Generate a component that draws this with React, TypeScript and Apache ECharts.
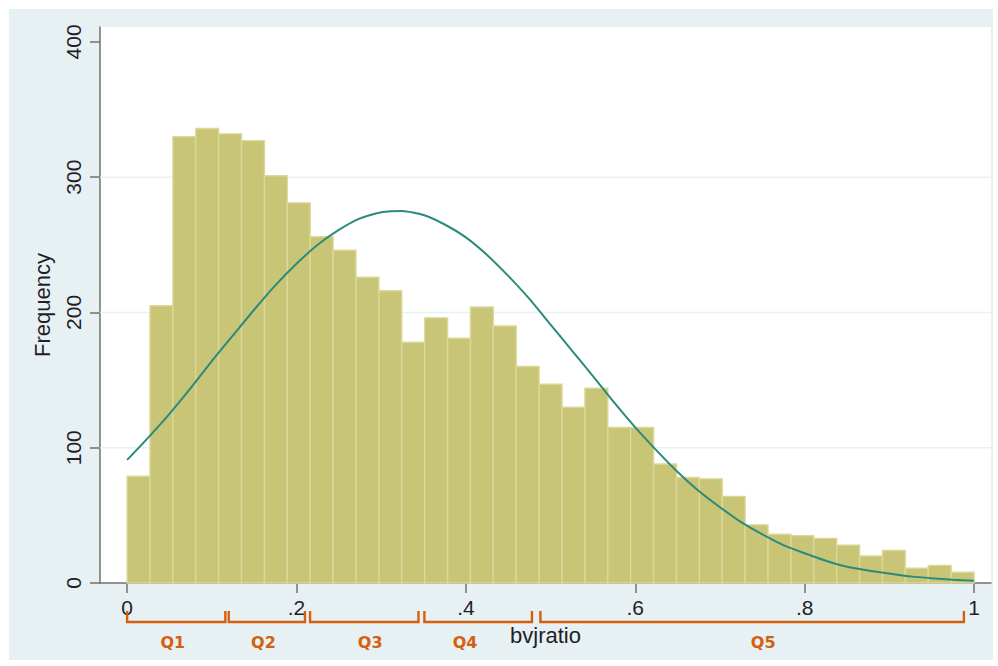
import React, { useEffect, useRef } from "react";
import * as echarts from "echarts";

// ---- data ----
const binStart = 0;
const binEnd = 1;
const binCounts = [
  79, 205, 330, 336, 332, 327, 301, 281, 256, 246, 226, 216, 178, 196, 181, 204, 190,
  160, 147, 130, 144, 115, 115, 88, 78, 77, 64, 43, 36, 35, 33, 28, 20, 24, 11, 13, 8,
];
const curveX = [
  0, 0.025, 0.05, 0.075, 0.1, 0.125, 0.15, 0.175, 0.2, 0.225, 0.25, 0.275, 0.3, 0.325, 0.35, 0.375,
  0.4, 0.425, 0.45, 0.475, 0.5, 0.525, 0.55, 0.575, 0.6, 0.625, 0.65, 0.675, 0.7, 0.725, 0.75,
  0.775, 0.8, 0.825, 0.85, 0.875, 0.9, 0.925, 0.95, 0.975, 1,
];
const curveY = [
  91, 107.5, 125, 144, 164, 183, 202, 220, 236, 250, 261, 269.5, 274, 275, 272, 265,
  255.5, 242.5, 227, 210, 191, 172, 153, 133.5, 115, 98, 82, 68, 56, 45, 36,
  28, 22, 16.5, 12, 9.2, 7, 4.9, 3.5, 2.4, 1.7,
];
const yTicks = [0, 100, 200, 300, 400];
const xTicks = [0, 0.2, 0.4, 0.6, 0.8, 1];
const gridValues = [100, 200, 300];
const quintileNames = ["Q1", "Q2", "Q3", "Q4", "Q5"];
const quintileStart = [0, 0.12, 0.216, 0.351, 0.488];
const quintileEnd = [0.116, 0.21, 0.344, 0.478, 0.988];
const quintileLabelX = [0.054, 0.161, 0.287, 0.399, 0.751];

const xMin = -0.032;
const xMax = 1.02;
const yMax = 411;

const FONT = "'Liberation Sans', Arial, Helvetica, sans-serif";
const ORANGE = "#d4600f";
const TEXT = "#1f1f2a";
const AXIS = "#707070";

export default function App() {
  const ref = useRef<HTMLDivElement>(null);

  useEffect(() => {
    if (!ref.current) return;
    const chart = echarts.init(ref.current, null, { renderer: "svg" });
    const n = binCounts.length;
    const bw = (binEnd - binStart) / n;
    const barData = binCounts.map((c, i) => [binStart + i * bw, binStart + (i + 1) * bw, c]);
    const curveData = curveX.map((x, i) => [x, curveY[i]]);
    const quintData = quintileNames.map((_, i) => [quintileStart[i], quintileEnd[i], quintileLabelX[i]]);

    const fmtX = (v: number) => {
      if (v === 0) return "0";
      if (v === 1) return "1";
      return String(Math.round(v * 10) / 10).replace(/^0/, "");
    };

    chart.setOption({
      animation: false,
      backgroundColor: "#e7f0f2",
      grid: {
        left: 91,
        top: 18,
        right: 2,
        bottom: 77,
        show: true,
        backgroundColor: "#ffffff",
        borderWidth: 0,
      },
      xAxis: {
        type: "value",
        min: xMin,
        max: xMax,
        name: "bvjratio",
        nameLocation: "middle",
        nameGap: 41,
        nameTextStyle: { fontFamily: FONT, fontSize: 22, color: TEXT },
        axisLine: { show: true, onZero: false, lineStyle: { color: AXIS, width: 1.5 } },
        axisTick: { show: true, length: 10, customValues: xTicks, lineStyle: { color: AXIS, width: 1.5 } },
        axisLabel: {
          customValues: xTicks,
          formatter: (v: number) => fmtX(v),
          fontFamily: FONT,
          fontSize: 21,
          color: TEXT,
          margin: 14,
        },
        splitLine: { show: false },
      },
      yAxis: {
        type: "value",
        min: 0,
        max: yMax,
        name: "Frequency",
        nameLocation: "middle",
        nameRotate: 90,
        nameGap: 47,
        nameTextStyle: { fontFamily: FONT, fontSize: 22, color: TEXT },
        axisLine: { show: true, onZero: false, lineStyle: { color: AXIS, width: 1.5 } },
        axisTick: { show: true, length: 10, customValues: yTicks, lineStyle: { color: AXIS, width: 1.5 } },
        axisLabel: {
          customValues: yTicks,
          rotate: 90,
          fontFamily: FONT,
          fontSize: 21,
          color: TEXT,
          margin: 16,
        },
        splitLine: { show: false },
      },
      series: [
        {
          type: "custom",
          z: 1,
          silent: true,
          data: gridValues.map((v) => [v]),
          renderItem: (params: any, api: any) => {
            const cs = params.coordSys;
            const p = api.coord([xMin, api.value(0)]);
            return {
              type: "line",
              shape: { x1: cs.x, y1: p[1], x2: cs.x + cs.width, y2: p[1] },
              style: { stroke: "#e8f1f3", lineWidth: 1.5 },
            };
          },
        },
        {
          type: "custom",
          z: 2,
          data: barData,
          encode: { x: [0, 1], y: 2 },
          renderItem: (params: any, api: any) => {
            const a = api.coord([api.value(0), api.value(2)]);
            const b = api.coord([api.value(1), 0]);
            return {
              type: "rect",
              shape: { x: a[0], y: a[1], width: b[0] - a[0], height: b[1] - a[1] },
              style: { fill: "#c9c577", stroke: "#dcd89a", lineWidth: 1.4 },
            };
          },
        },
        {
          type: "line",
          z: 3,
          data: curveData,
          smooth: 0.2,
          symbol: "none",
          lineStyle: { color: "#2b8a7c", width: 2 },
        },
        {
          type: "custom",
          z: 4,
          clip: false,
          silent: true,
          data: quintData,
          encode: { x: [0, 1] },
          renderItem: (params: any, api: any) => {
            const a = api.coord([api.value(0), 0]);
            const b = api.coord([api.value(1), 0]);
            const l = api.coord([api.value(2), 0]);
            const y0 = a[1];
            return {
              type: "group",
              children: [
                {
                  type: "polyline",
                  shape: {
                    points: [
                      [a[0], y0 + 28],
                      [a[0], y0 + 39],
                      [b[0], y0 + 39],
                      [b[0], y0 + 28],
                    ],
                  },
                  style: { stroke: ORANGE, lineWidth: 2.4, fill: null },
                },
                {
                  type: "text",
                  x: l[0],
                  y: y0 + 59,
                  style: {
                    text: quintileNames[params.dataIndex],
                    fill: ORANGE,
                    fontFamily: "'DejaVu Sans', Verdana, sans-serif",
                    fontWeight: "bold",
                    fontSize: 16,
                    align: "center",
                    verticalAlign: "middle",
                  },
                },
              ],
            };
          },
        },
      ],
    });
    return () => chart.dispose();
  }, []);

  return (
    <div style={{ position: "absolute", left: 0, top: 0, width: 998, height: 666, background: "#ffffff" }}>
      <div ref={ref} style={{ position: "absolute", left: 9, top: 9, width: 984, height: 651 }} />
    </div>
  );
}
